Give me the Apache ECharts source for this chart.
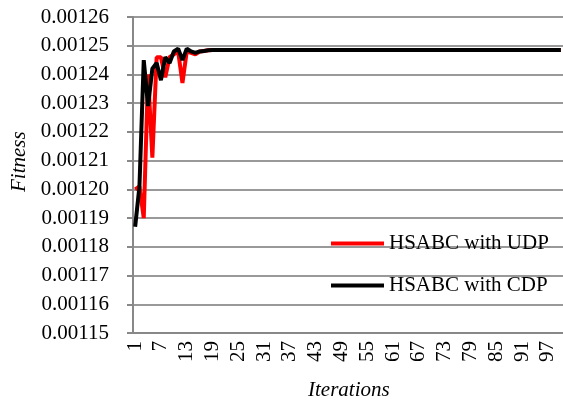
<!DOCTYPE html>
<html>
<head>
<meta charset="utf-8">
<script src="https://cdn.jsdelivr.net/npm/echarts@6/dist/echarts.min.js"></script>
<style>
  html, body { margin: 0; padding: 0; background: #fff; }
  #chart { width: 563px; height: 404px; }
</style>
</head>
<body>
<div id="chart"></div>
<script>
// Iteration numbers on the x axis
const iterations = [
  1, 2, 3, 4, 5, 6, 7, 8, 9, 10,
  11, 12, 13, 14, 15, 16, 17, 18, 19, 20,
  21, 22, 23, 24, 25, 26, 27, 28, 29, 30,
  31, 32, 33, 34, 35, 36, 37, 38, 39, 40,
  41, 42, 43, 44, 45, 46, 47, 48, 49, 50,
  51, 52, 53, 54, 55, 56, 57, 58, 59, 60,
  61, 62, 63, 64, 65, 66, 67, 68, 69, 70,
  71, 72, 73, 74, 75, 76, 77, 78, 79, 80,
  81, 82, 83, 84, 85, 86, 87, 88, 89, 90,
  91, 92, 93, 94, 95, 96, 97, 98, 99, 100
];

// Best fitness per iteration, HSABC with UDP
const fitnessUDP = [
  0.001200, 0.001201, 0.001190, 0.001240, 0.001211, 0.001246, 0.001246, 0.001239, 0.001246, 0.001247,
  0.001248, 0.001237, 0.001248, 0.0012475, 0.001247, 0.001248, 0.0012482, 0.0012484, 0.0012485, 0.0012485,
  0.0012485, 0.0012485, 0.0012485, 0.0012485, 0.0012485, 0.0012485, 0.0012485, 0.0012485, 0.0012485, 0.0012485,
  0.0012485, 0.0012485, 0.0012485, 0.0012485, 0.0012485, 0.0012485, 0.0012485, 0.0012485, 0.0012485, 0.0012485,
  0.0012485, 0.0012485, 0.0012485, 0.0012485, 0.0012485, 0.0012485, 0.0012485, 0.0012485, 0.0012485, 0.0012485,
  0.0012485, 0.0012485, 0.0012485, 0.0012485, 0.0012485, 0.0012485, 0.0012485, 0.0012485, 0.0012485, 0.0012485,
  0.0012485, 0.0012485, 0.0012485, 0.0012485, 0.0012485, 0.0012485, 0.0012485, 0.0012485, 0.0012485, 0.0012485,
  0.0012485, 0.0012485, 0.0012485, 0.0012485, 0.0012485, 0.0012485, 0.0012485, 0.0012485, 0.0012485, 0.0012485,
  0.0012485, 0.0012485, 0.0012485, 0.0012485, 0.0012485, 0.0012485, 0.0012485, 0.0012485, 0.0012485, 0.0012485,
  0.0012485, 0.0012485, 0.0012485, 0.0012485, 0.0012485, 0.0012485, 0.0012485, 0.0012485, 0.0012485, 0.0012485
];

// Best fitness per iteration, HSABC with CDP
const fitnessCDP = [
  0.001187, 0.001201, 0.001245, 0.001229, 0.001242, 0.001244, 0.001238, 0.001246, 0.001244, 0.001248,
  0.001249, 0.001245, 0.001249, 0.001248, 0.0012475, 0.001248, 0.0012482, 0.0012484, 0.0012485, 0.0012485,
  0.0012485, 0.0012485, 0.0012485, 0.0012485, 0.0012485, 0.0012485, 0.0012485, 0.0012485, 0.0012485, 0.0012485,
  0.0012485, 0.0012485, 0.0012485, 0.0012485, 0.0012485, 0.0012485, 0.0012485, 0.0012485, 0.0012485, 0.0012485,
  0.0012485, 0.0012485, 0.0012485, 0.0012485, 0.0012485, 0.0012485, 0.0012485, 0.0012485, 0.0012485, 0.0012485,
  0.0012485, 0.0012485, 0.0012485, 0.0012485, 0.0012485, 0.0012485, 0.0012485, 0.0012485, 0.0012485, 0.0012485,
  0.0012485, 0.0012485, 0.0012485, 0.0012485, 0.0012485, 0.0012485, 0.0012485, 0.0012485, 0.0012485, 0.0012485,
  0.0012485, 0.0012485, 0.0012485, 0.0012485, 0.0012485, 0.0012485, 0.0012485, 0.0012485, 0.0012485, 0.0012485,
  0.0012485, 0.0012485, 0.0012485, 0.0012485, 0.0012485, 0.0012485, 0.0012485, 0.0012485, 0.0012485, 0.0012485,
  0.0012485, 0.0012485, 0.0012485, 0.0012485, 0.0012485, 0.0012485, 0.0012485, 0.0012485, 0.0012485, 0.0012485
];

const seriesNames = ['HSABC with UDP', 'HSABC with CDP'];

const FONT = '"Liberation Serif", "Times New Roman", serif';
const FONT_SIZE = 21;

const chart = echarts.init(document.getElementById('chart'), null, { renderer: 'canvas' });

chart.setOption({
  animation: false,
  backgroundColor: '#ffffff',
  grid: { left: 133, right: -9, top: 17, bottom: 71, containLabel: false },
  legend: {
    data: seriesNames,
    orient: 'vertical',
    left: 331,
    top: 233,
    itemWidth: 53,
    itemHeight: 4,
    itemGap: 21,
    icon: 'rect',
    textStyle: { fontFamily: FONT, fontSize: FONT_SIZE, color: '#000', lineHeight: 20, padding: [0, 0, 0, 0] },
    padding: 0
  },
  xAxis: {
    type: 'category',
    data: iterations,
    boundaryGap: true,
    axisLine: { lineStyle: { color: '#888', width: 2 } },
    axisTick: { interval: 0, length: 5, lineStyle: { color: '#888', width: 1 } },
    axisLabel: {
      interval: 5,
      rotate: 90,
      margin: 8,
      fontFamily: FONT,
      fontSize: FONT_SIZE,
      color: '#000'
    },
    splitLine: { show: false }
  },
  yAxis: {
    type: 'value',
    min: 0.00115,
    max: 0.00126,
    interval: 0.00001,
    axisLine: { show: true, lineStyle: { color: '#888', width: 2 } },
    axisTick: { show: true, length: 6, lineStyle: { color: '#888', width: 2 } },
    axisLabel: {
      fontFamily: FONT,
      fontSize: FONT_SIZE,
      color: '#000',
      margin: 24,
      formatter: v => v.toFixed(5)
    },
    splitLine: { lineStyle: { color: '#999', width: 2 } }
  },
  graphic: [
    {
      type: 'text',
      left: 308,
      top: 380,
      style: { text: 'Iterations', font: 'italic 21px ' + FONT, fill: '#000' }
    },
    {
      type: 'text',
      x: 9,
      y: 192,
      rotation: Math.PI / 2,
      style: { text: 'Fitness', font: 'italic 21px ' + FONT, fill: '#000', align: 'left', verticalAlign: 'top' }
    }
  ],
  series: [
    {
      name: seriesNames[0],
      type: 'line',
      data: fitnessUDP,
      showSymbol: false,
      symbol: 'none',
      lineStyle: { color: '#ff0000', width: 4 },
      itemStyle: { color: '#ff0000' },
      z: 2
    },
    {
      name: seriesNames[1],
      type: 'line',
      data: fitnessCDP,
      showSymbol: false,
      symbol: 'none',
      lineStyle: { color: '#000000', width: 4 },
      itemStyle: { color: '#000000' },
      z: 3
    }
  ]
});
</script>
</body>
</html>
